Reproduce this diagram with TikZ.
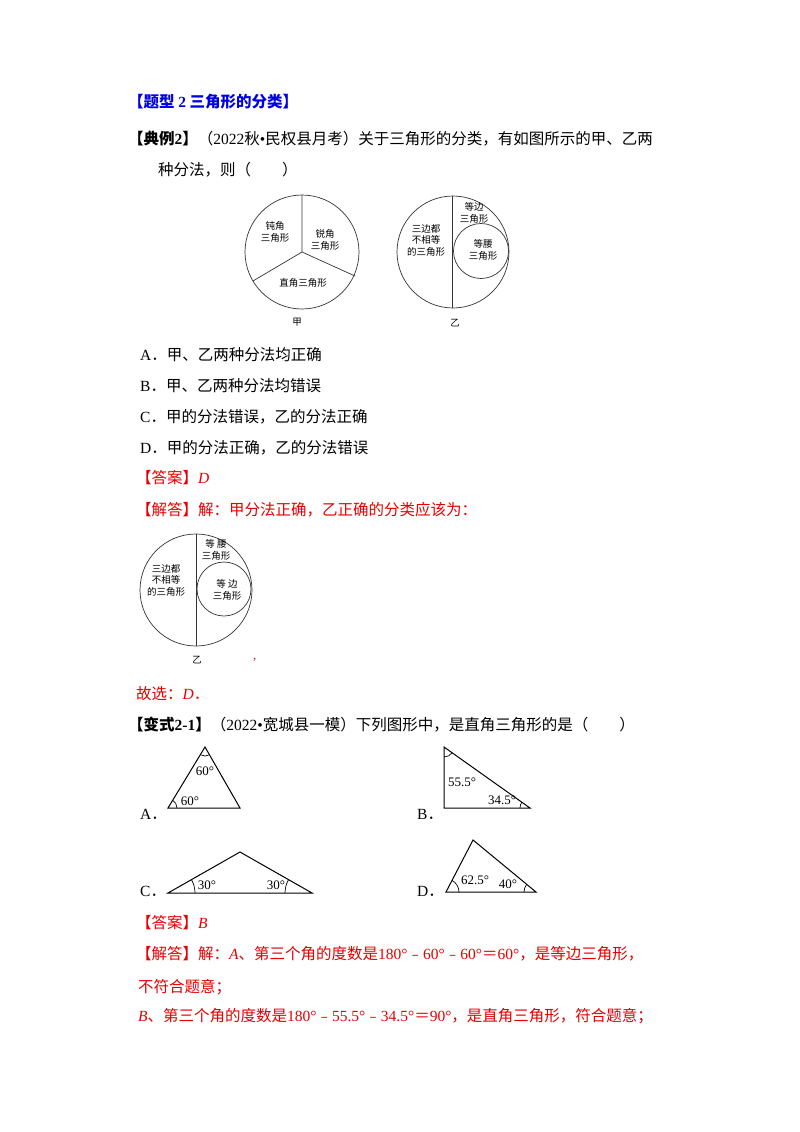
\documentclass[tikz,border=0pt]{standalone}
\usepackage{fontspec}
\setmainfont{Liberation Serif}
\newfontfamily\cjk{Noto Sans CJK SC}
\newcommand{\lt}[1]{{\rmfamily #1}}
\usetikzlibrary{calc}
\definecolor{qblue}{RGB}{0,0,230}
\definecolor{qred}{RGB}{230,0,0}
\begin{document}
\begin{tikzpicture}[x=1pt,y=-1pt,
  txt/.style={anchor=west,inner sep=0pt,font=\fontsize{15.5}{18}\selectfont\cjk},
  sm/.style={inner sep=0pt,align=center,font=\fontsize{9.5}{11.5}\selectfont\cjk},
  ln/.style={draw=black!80,line width=0.7pt},
  tri/.style={draw=black,line width=1pt},
  ang/.style={draw=black,line width=0.7pt},
  num/.style={inner sep=0pt,font=\fontsize{13}{15}\selectfont}]
\useasboundingbox (0,0) rectangle (800,1132);
\node[txt,text=qblue,font=\fontsize{15.5}{18}\selectfont\cjk\bfseries] (t0) at (128,102) {【题型 \lt{2} 三角形的分类】};
\node[txt] (t1) at (128,139) {\textbf{【典例\lt{2}】}（\lt{2022}秋\lt{•}民权县月考）关于三角形的分类，有如图所示的甲、乙两};
\node[txt] (t2) at (158,170) {种分法，则（　　）};
% circle jia
\coordinate (jc) at (302,252);
\draw[ln] (jc) circle (57);
\coordinate (j1) at (302,195); \coordinate (j2) at (253,281); \coordinate (j3) at (355,276);
\draw[ln] (jc) -- (j1) (jc) -- (j2) (jc) -- (j3);
\node[sm] (ja) at (275,232) {钝角\\三角形};
\node[sm] (jb) at (325,240) {锐角\\三角形};
\node[sm] (jd) at (303,283) {直角三角形};
\node[sm] (jl) at (297,322) {甲};
% circle yi
\coordinate (yc) at (453,252);
\draw[ln] (yc) circle (56);
\coordinate (y1) at (452,196); \coordinate (y2) at (452,308);
\draw[ln] (y1) -- (y2);
\draw[ln] (481,251) circle (27.5);
\node[sm] (ya) at (474,213) {等边\\三角形};
\node[sm] (yb) at (483,250) {等腰\\三角形};
\node[sm] (yd) at (426,240) {三边都\\不相等\\的三角形};
\node[sm] (yl) at (455,323) {乙};
\node[txt] (oa) at (140,355) {\lt{A}．甲、乙两种分法均正确};
\node[txt] (ob) at (140,386) {\lt{B}．甲、乙两种分法均错误};
\node[txt] (oc) at (140,417) {\lt{C}．甲的分法错误，乙的分法正确};
\node[txt] (od) at (140,448) {\lt{D}．甲的分法正确，乙的分法错误};
\node[txt,text=qred] (a1) at (136,478) {【答案】\lt{\textit{D}}};
\node[txt,text=qred] (a2) at (136,510) {【解答】解：甲分法正确，乙正确的分类应该为：};
% circle 3
\draw[ln] (196,590) circle (56);
\coordinate (z1) at (196,534); \coordinate (z2) at (196,646);
\draw[ln] (z1) -- (z2);
\draw[ln] (224,589) circle (27);
\node[sm] (za) at (216,550) {等 腰\\三角形};
\node[sm] (zb) at (227,590) {等 边\\三角形};
\node[sm] (zd) at (166,580) {三边都\\不相等\\的三角形};
\node[sm] (zl) at (197,660) {乙};
\node[sm,text=qred] (zc) at (257,660) {，};
\node[txt,text=qred] (a3) at (136,694) {故选：\lt{\textit{D}}．};
\node[txt] (t3) at (128,725) {\textbf{【变式\lt{2-1}】}（\lt{2022•}宽城县一模）下列图形中，是直角三角形的是（　　）};
% triangles
\coordinate (A1) at (205,747); \coordinate (A2) at (168,808); \coordinate (A3) at (240,808);
\draw[tri] (A1) -- (A2) -- (A3) -- cycle;
\draw[ang] ($(A1)+(60.2:9)$) arc[start angle=60.2,end angle=121.2,radius=9];
\draw[ang] ($(A2)+(0:9)$) arc[start angle=0,end angle=-58.8,radius=9];
\node[num] (A1l) at (205,771) {60°}; \node[num] (A2l) at (190,801) {60°};
\node[txt] (Al) at (140,814) {\lt{A}．};
\coordinate (B1) at (444,747); \coordinate (B2) at (444,808); \coordinate (B3) at (530,808);
\draw[tri] (B1) -- (B2) -- (B3) -- cycle;
\draw[ang] ($(B1)+(35.3:10)$) arc[start angle=35.3,end angle=90,radius=10];
\draw[ang] ($(B3)+(180:10)$) arc[start angle=180,end angle=215.3,radius=10];
\node[num] (B1l) at (462,782) {55.5°}; \node[num] (B3l) at (502,800) {34.5°};
\node[txt] (Bl) at (417,814) {\lt{B}．};
\coordinate (C1) at (240,852); \coordinate (C2) at (168,893); \coordinate (C3) at (312,893);
\draw[tri] (C1) -- (C2) -- (C3) -- cycle;
\draw[ang] ($(C2)+(0:27)$) arc[start angle=0,end angle=-29.7,radius=27];
\draw[ang] ($(C3)+(180:27)$) arc[start angle=180,end angle=209.7,radius=27];
\node[num] (C2l) at (207,885) {30°}; \node[num] (C3l) at (276,885) {30°};
\node[txt] (Cl) at (140,891) {\lt{C}．};
\coordinate (D1) at (473,840); \coordinate (D2) at (446,892); \coordinate (D3) at (536,892);
\draw[tri] (D1) -- (D2) -- (D3) -- cycle;
\draw[ang] ($(D2)+(0:13)$) arc[start angle=0,end angle=-62.6,radius=13];
\draw[ang] ($(D3)+(180:12)$) arc[start angle=180,end angle=219.5,radius=12];
\node[num] (D2l) at (475,880) {62.5°}; \node[num] (D3l) at (508,884) {40°};
\node[txt] (Dl) at (417,891) {\lt{D}．};
\node[txt,text=qred] (a4) at (136,923) {【答案】\lt{\textit{B}}};
\node[txt,text=qred] (a5) at (136,954) {【解答】解：\lt{\textit{A}}、第三个角的度数是\lt{180°}﹣\lt{60°}﹣\lt{60°}＝\lt{60°}，是等边三角形，};
\node[txt,text=qred] (a6) at (138,987) {不符合题意；};
\node[txt,text=qred] (a7) at (138,1016) {\lt{\textit{B}}、第三个角的度数是\lt{180°}﹣\lt{55.5°}﹣\lt{34.5°}＝\lt{90°}，是直角三角形，符合题意；};
\end{tikzpicture}
\end{document}
